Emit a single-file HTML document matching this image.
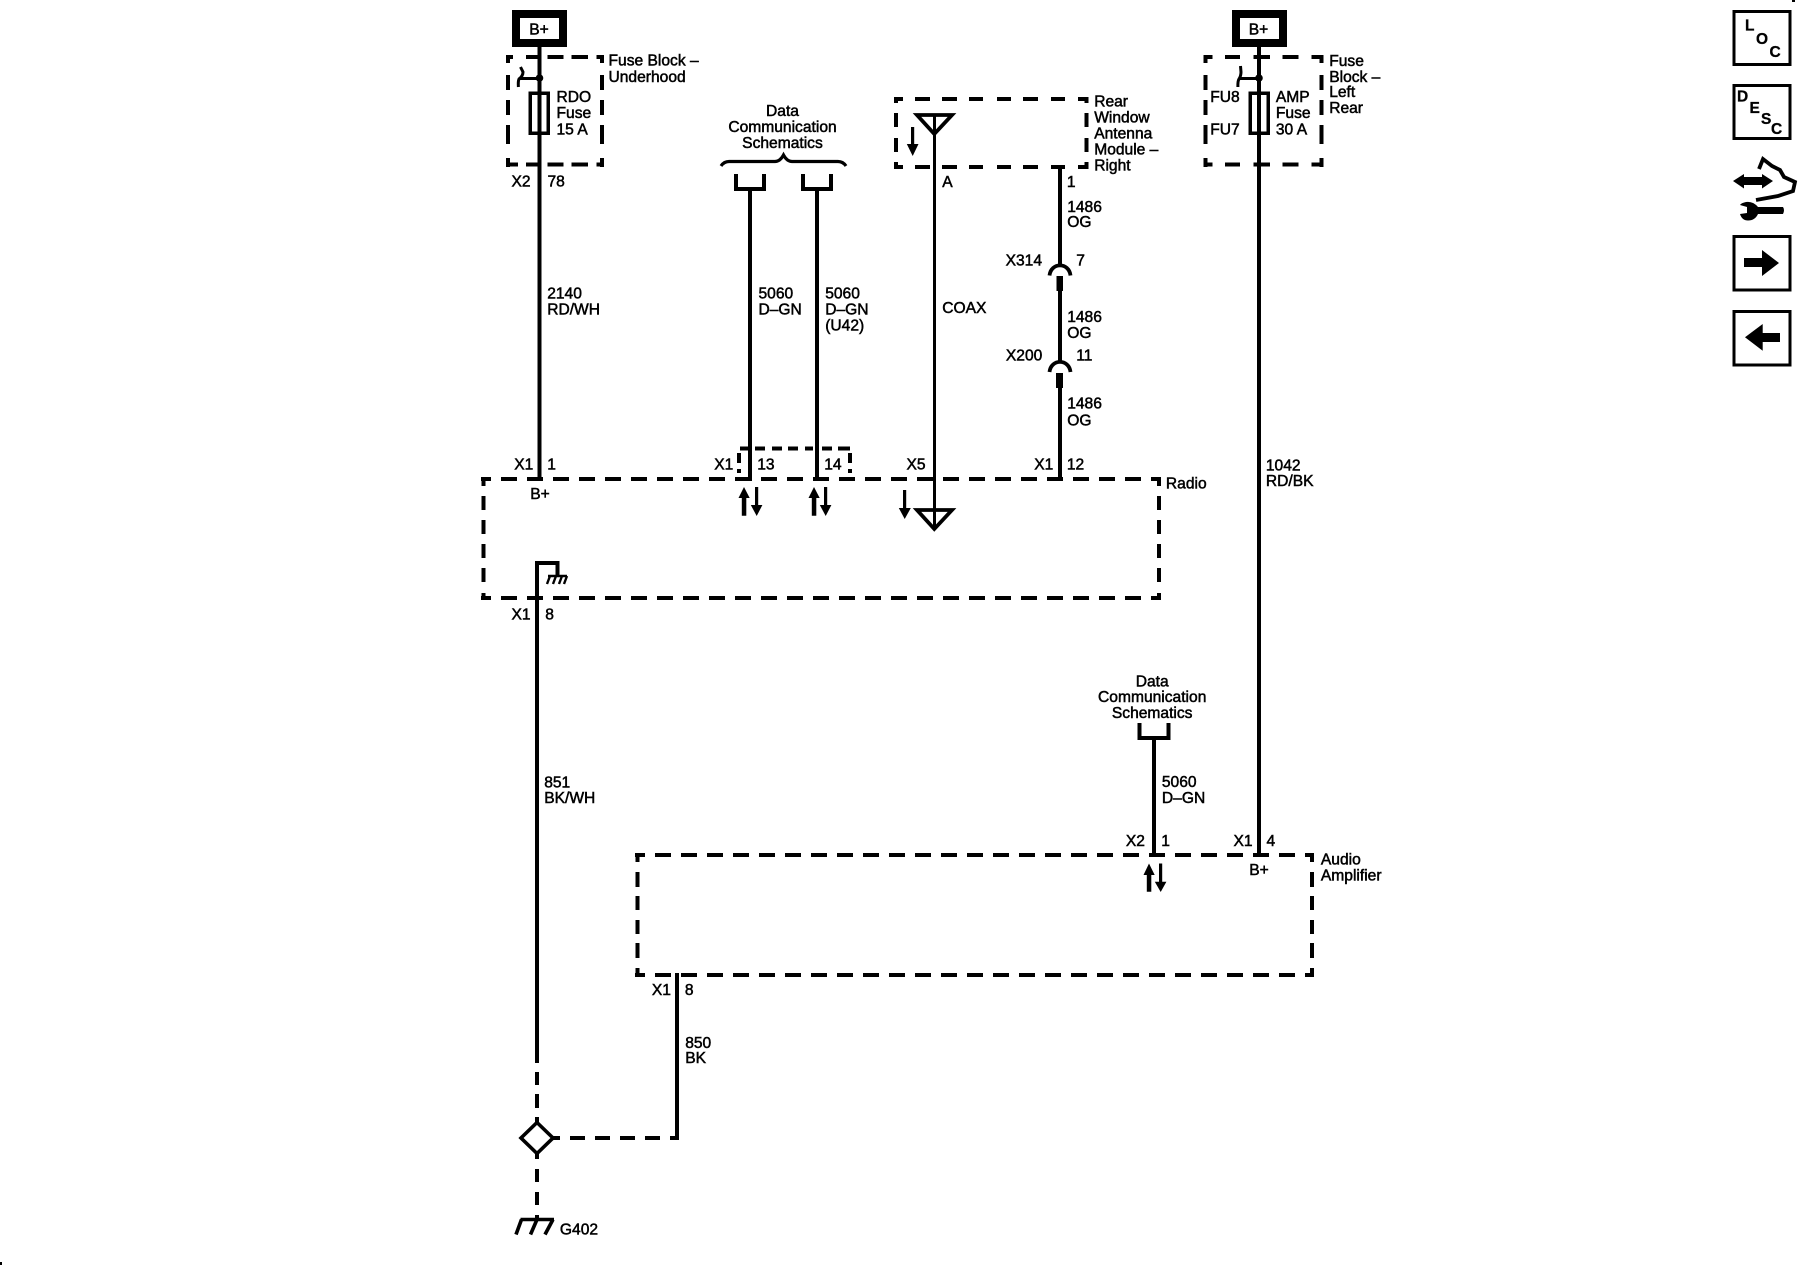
<!DOCTYPE html>
<html>
<head>
<meta charset="utf-8">
<style>
html,body{margin:0;padding:0;background:#fff;width:1800px;height:1280px;overflow:hidden}
svg{display:block}
text{font-family:"Liberation Sans",Arial,sans-serif;font-size:15.6px;fill:#000;stroke:#000;stroke-width:.5px}
.m{text-anchor:middle}
.b{font-weight:bold;font-size:15.5px;stroke-width:.3px}
</style>
</head>
<body>
<svg width="1800" height="1280" viewBox="0 0 1800 1280" xmlns="http://www.w3.org/2000/svg">
<rect width="1800" height="1280" fill="#fff"/>

<!-- B+ boxes -->
<g fill="none" stroke="#000" stroke-width="8" shape-rendering="crispEdges">
<rect x="516" y="14" width="47" height="29"/>
<rect x="1236" y="14" width="47" height="29"/>
</g>

<!-- Solid wires -->
<g fill="none" stroke="#000" stroke-width="4" shape-rendering="crispEdges">
<path d="M539.5 47V481"/>
<path d="M750 189V481"/>
<path d="M817 189V481"/>
<path d="M1060 165V265M1060 290V362M1060 388V481"/>
<path d="M1259 47V857"/>
<path d="M537 1063V563H557.5V576"/>
<path d="M1154 738V857"/>
<path d="M677 973V1140"/>
<path d="M736 174V189H764V174"/>
<path d="M803 174V189H831V174"/>
<path d="M1139.5 723V738H1168.5V723"/>
</g>
<path d="M934.3 115V530" stroke="#000" stroke-width="3" fill="none" shape-rendering="crispEdges"/>

<!-- Dashed boxes -->
<g fill="none" stroke="#000" stroke-width="4" shape-rendering="crispEdges">
<path d="M506 57H513M526 57H541M547.7 57H563.3M571.7 57H588M596.7 57H604"/>
<path d="M506 164.7H518M526 164.7H541M547.7 164.7H563.3M571.7 164.7H588M596.7 164.7H604"/>
<path d="M508 55V63M508 75V90M508 100V115M508 125V144M508 158V167"/>
<path d="M602 55V63M602 75V90M602 100V115M602 125V144M602 158V167"/>
<path d="M1203.3 57H1212.3M1225 57H1240M1253.3 57H1270M1282.7 57H1298.3M1311.7 57H1323.3"/>
<path d="M1203.3 164.7H1212.3M1225 164.7H1240M1253.3 164.7H1270M1282.7 164.7H1298.3M1311.7 164.7H1323.3"/>
<path d="M1205.3 55V63M1205.3 75V90M1205.3 100V115M1205.3 125V144M1205.3 158V167"/>
<path d="M1321.5 55V63M1321.5 75V90M1321.5 100V115M1321.5 125V144M1321.5 158V167"/>
<path d="M894 99H903M915 99H930M942 99H957M969 99H983M997 99H1011M1023 99H1038M1051 99H1065M1078 99H1088.5"/>
<path d="M894 167H903M915 167H930M942 167H957M969 167H983M997 167H1011M1023 167H1038M1051 167H1065M1078 167H1088.5"/>
<path d="M896 97V103M896 113V127M896 138V152M896 162V169"/>
<path d="M1086.5 97V103M1086.5 113V127M1086.5 138V152M1086.5 162V169"/>
<path d="M481 479H491M1151 479H1161M481 598H491M1151 598H1161"/>
<path d="M501 479H1141" stroke-dasharray="16 10"/>
<path d="M501 598H1141" stroke-dasharray="16 10"/>
<path d="M483.5 477V486M483.5 496V510M483.5 520V534M483.5 544V558M483.5 568V582M483.5 593V600"/>
<path d="M1159 477V486M1159 496V510M1159 520V534M1159 544V558M1159 568V582M1159 593V600"/>
<path d="M740 448.5H748M755 448.5H765M772 448.5H782M788 448.5H798M805 448.5H813M822 448.5H832M838 448.5H850" />
<path d="M739 453V463M739 469V473M850 453V463M850 469V473"/>
<path d="M635 855H645M1305 855H1314M635 975H645M1305 975H1314"/>
<path d="M655 855H1305" stroke-dasharray="16 10"/>
<path d="M655 975H1305" stroke-dasharray="16 10"/>
<path d="M637.5 853V862M637.5 872V887M637.5 896V910M637.5 920V934M637.5 943V958M637.5 968V977"/>
<path d="M1312 853V862M1312 872V887M1312 896V910M1312 920V934M1312 943V958M1312 968V977"/>
<path d="M537 1072V1085M537 1094V1108M537 1117V1125M537 1154V1159M537 1169V1182M537 1192V1205M537 1215V1219"/>
<path d="M553 1138H560M570 1138H585M595 1138H610M620 1138H635M645 1138H660M670 1138H679"/>
</g>

<!-- Fuses -->
<g fill="none" stroke="#000" stroke-width="3.5" shape-rendering="crispEdges">
<rect x="530" y="93" width="18" height="40"/>
<rect x="1250" y="93" width="18" height="40"/>
</g>
<!-- Switches -->
<g fill="none" stroke="#000" stroke-width="3">
<path d="M520.5 67 L523 72 Q523 76 519 79 Q518 81 518.4 87 M519 78.5H540"/>
<path d="M1240.5 66 L1241 72 Q1241 76 1239 79 Q1237.7 81 1237.9 87 M1239 78.5H1259"/>
</g>
<circle cx="539.5" cy="78" r="3.8" fill="#000"/>
<circle cx="1259" cy="78" r="3.8" fill="#000"/>

<!-- Brace -->
<path d="M721 166Q724 161.5 729 161.5L775 161.5Q780 161.5 783.5 155Q787 161.5 792 161.5L838 161.5Q843 161.5 846 166" fill="none" stroke="#000" stroke-width="3.2"/>

<!-- Antenna triangles -->
<g fill="none" stroke="#000" stroke-width="3.8">
<path d="M917 115H952L934.3 134Z"/>
<path d="M917 510H952L934.3 529Z"/>
</g>

<!-- Connectors -->
<g fill="none" stroke="#000" stroke-width="3.8">
<path d="M1049.5 275.5C1051 262 1069 262 1070.5 275.5"/>
<path d="M1049.5 372C1051 358.5 1069 358.5 1070.5 372"/>
</g>
<rect x="1056.5" y="276" width="6.5" height="15" fill="#000"/>
<rect x="1056" y="373" width="7" height="15" fill="#000"/>

<!-- Arrows -->
<g fill="#000" stroke="none">
<path d="M911 127h3.2v17h4.3L912.7 156 906.8 144h4.2z"/>
<path d="M903 490h3.2v18h4.6L904.7 519 898.8 508h4.2z"/>
<path d="M741.8 515.7V498h-3.3L744 487l5.7 11h-3.4v17.7z"/>
<path d="M755 487h3.2v18h4.2L756.7 516 750.8 505h4.2z"/>
<path d="M811.8 515.7V498h-3.3L814 487l5.7 11h-3.4v17.7z"/>
<path d="M824 487h3.2v18h4.2L825.7 516 819.8 505h4.2z"/>
<path d="M1146.8 891.7V875h-3.3L1149 863.5l5.7 11.5h-3.4v16.7z"/>
<path d="M1159 863.5h3.2v18.2h4.2L1160.7 892 1154.8 881.7h4.2z"/>
</g>

<!-- Small ground in Radio -->
<g stroke="#000" fill="none" stroke-width="2.6">
<path d="M548 576H567"/>
<path d="M550 576L547 584M556 576L553 584M562 576L559 584M567 576L564 584" stroke-width="2.4"/>
</g>

<!-- G402 ground and diamond -->
<path d="M537 1122.5L553 1138L537 1153.5L521 1138Z" fill="#fff" stroke="#000" stroke-width="3.6"/>
<g stroke="#000" fill="none" stroke-width="3.6">
<path d="M520.5 1219.5H554"/>
<path d="M521.5 1219.5L516 1234.5M537 1219.5L530.5 1234.5M553 1219.5L545 1234.5"/>
</g>

<!-- Labels -->
<g transform="translate(-.8 .5)">
<text x="530" y="34">B+</text>
<text x="1249.5" y="34">B+</text>
<text x="609.3" y="65">Fuse Block –</text>
<text x="609.3" y="81.7">Underhood</text>
<text x="557.3" y="101.7">RDO</text>
<text x="557.3" y="117.7">Fuse</text>
<text x="557.3" y="134">15 A</text>
<text x="512.3" y="186">X2</text>
<text x="548.3" y="186">78</text>
<text x="548" y="298">2140</text>
<text x="548" y="314">RD/WH</text>
<text class="m" x="783.3" y="115.7">Data</text>
<text class="m" x="783.3" y="131.7">Communication</text>
<text class="m" x="783.3" y="147.3">Schematics</text>
<text x="759.3" y="298">5060</text>
<text x="759.3" y="314">D–GN</text>
<text x="826" y="298">5060</text>
<text x="826" y="314">D–GN</text>
<text x="826" y="330">(U42)</text>
<text x="1095" y="106">Rear</text>
<text x="1095" y="122">Window</text>
<text x="1095" y="138">Antenna</text>
<text x="1095" y="154">Module –</text>
<text x="1095" y="170">Right</text>
<text x="943" y="186.7">A</text>
<text x="943" y="312.7">COAX</text>
<text x="1067.7" y="186.7">1</text>
<text x="1068" y="211.7">1486</text>
<text x="1068" y="226.7">OG</text>
<text x="1006.4" y="265">X314</text>
<text x="1077" y="265">7</text>
<text x="1068" y="321.7">1486</text>
<text x="1068" y="337.7">OG</text>
<text x="1006.7" y="360">X200</text>
<text x="1077" y="360">11</text>
<text x="1068" y="408">1486</text>
<text x="1068" y="425">OG</text>
<text x="1211" y="101.7">FU8</text>
<text x="1211" y="134">FU7</text>
<text x="1276.7" y="101.7">AMP</text>
<text x="1276.7" y="117.7">Fuse</text>
<text x="1276.7" y="134">30 A</text>
<text x="1330" y="65.7">Fuse</text>
<text x="1330" y="81.7">Block –</text>
<text x="1330" y="96.7">Left</text>
<text x="1330" y="112.7">Rear</text>
<text x="515" y="469">X1</text>
<text x="548" y="469">1</text>
<text x="531" y="498.3">B+</text>
<text x="715" y="469">X1</text>
<text x="758" y="469">13</text>
<text x="825" y="469">14</text>
<text x="907.3" y="469">X5</text>
<text x="1035" y="469">X1</text>
<text x="1067.7" y="469">12</text>
<text x="1166.7" y="488">Radio</text>
<text x="1266.7" y="470">1042</text>
<text x="1266.7" y="485.6">RD/BK</text>
<text x="512.3" y="619">X1</text>
<text x="546" y="619">8</text>
<text x="545" y="787">851</text>
<text x="545" y="802.5">BK/WH</text>
<text class="m" x="1153" y="686">Data</text>
<text class="m" x="1153" y="701.7">Communication</text>
<text class="m" x="1153" y="717.3">Schematics</text>
<text x="1162.7" y="786.7">5060</text>
<text x="1162.7" y="802.7">D–GN</text>
<text x="1126.7" y="845.7">X2</text>
<text x="1162" y="845.7">1</text>
<text x="1234.3" y="845.7">X1</text>
<text x="1267.3" y="845.7">4</text>
<text x="1250" y="874.3">B+</text>
<text x="1321.7" y="864">Audio</text>
<text x="1321.7" y="880">Amplifier</text>
<text x="652.7" y="994.3">X1</text>
<text x="685.7" y="994.3">8</text>
<text x="686" y="1047.3">850</text>
<text x="686" y="1062.7">BK</text>
<text x="560.7" y="1234">G402</text>
</g>

<!-- Right-side icons -->
<g fill="none" stroke="#000" stroke-width="3" shape-rendering="crispEdges">
<rect x="1733.8" y="11.5" width="56.4" height="53"/>
<rect x="1733.8" y="85.5" width="56.4" height="53"/>
<rect x="1733.8" y="236.5" width="56.4" height="53.5"/>
<rect x="1733.8" y="311.5" width="56.4" height="53.5"/>
</g>
<text class="b" x="1745" y="30.7">L</text>
<text class="b" x="1756" y="44">O</text>
<text class="b" x="1769.5" y="57">C</text>
<text class="b" x="1737" y="101.5">D</text>
<text class="b" x="1749.5" y="113">E</text>
<text class="b" x="1761" y="124">S</text>
<text class="b" x="1771" y="134">C</text>
<path d="M1744 258H1762V250L1779 263L1762 276V267H1744Z" fill="#000"/>
<path d="M1780 333H1762.7V324L1745 337.3L1762.7 350.7V342H1780Z" fill="#000"/>
<!-- service icon -->
<path d="M1733 181L1744 174V177H1762V174L1773 181L1762 188.5V185H1744V188.5Z" fill="#000"/>
<path d="M1759 169L1763 159L1772 166L1780 170L1784 177L1795 182L1793 191L1778 196L1756 200" fill="none" stroke="#000" stroke-width="3.8"/>
<path d="M1783 207H1758Q1753 201 1746 202Q1741 203 1740 205L1747 207V213L1740 214Q1742 220.500 1748 220.500Q1755 220.500 1758 214H1783Q1785 210 1783 207Z" fill="#000"/>
<!-- edge ticks -->
<rect x="1792" y="0" width="3" height="2" fill="#000"/>
<rect x="0" y="1262" width="2" height="3" fill="#000"/>
</svg>
</body>
</html>
